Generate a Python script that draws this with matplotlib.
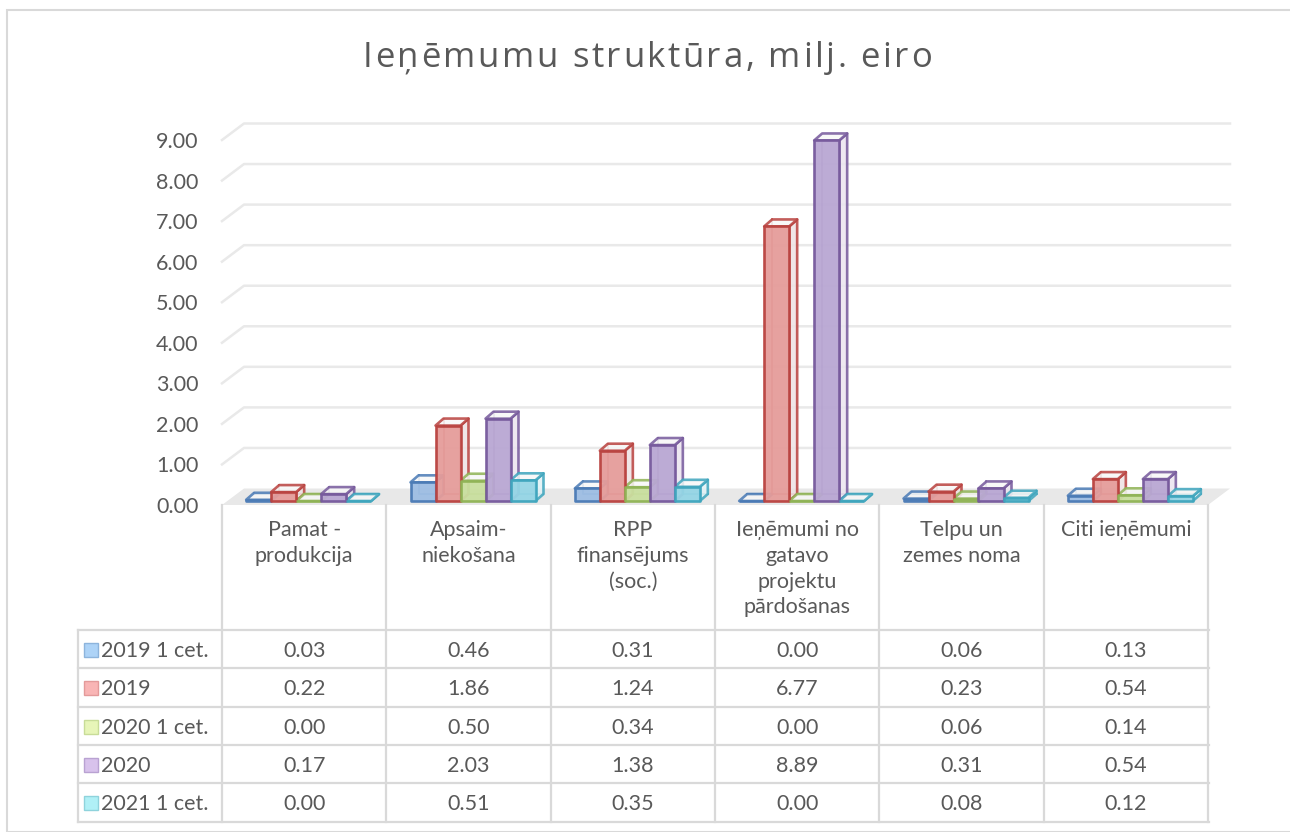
import numpy as np
import matplotlib.pyplot as plt
from matplotlib.patches import Polygon, Rectangle
from matplotlib.lines import Line2D
from matplotlib.transforms import blended_transform_factory

plt.rcParams['font.family'] = ['Lato', 'DejaVu Sans']

categories = ['Pamat -\nprodukcija', 'Apsaim-\nniekošana', 'RPP\nfinansējums\n(soc.)',
              'Ieņēmumi no\ngatavo\nprojektu\npārdošanas', 'Telpu un\nzemes noma', 'Citi ieņēmumi']
series = ['2019 1 cet.', '2019', '2020 1 cet.', '2020', '2021 1 cet.']
v_2019_q1 = [0.03, 0.46, 0.31, 0.00, 0.06, 0.13]
v_2019 = [0.22, 1.86, 1.24, 6.77, 0.23, 0.54]
v_2020_q1 = [0.00, 0.50, 0.34, 0.00, 0.06, 0.14]
v_2020 = [0.17, 2.03, 1.38, 8.89, 0.31, 0.54]
v_2021_q1 = [0.00, 0.51, 0.35, 0.00, 0.08, 0.12]
values = [v_2019_q1, v_2019, v_2020_q1, v_2020, v_2021_q1]
yticks = np.arange(0, 10, 1)
title = 'Ieņēmumu struktūra, milj. eiro'

edge_cols = ['#4a7ab5', '#b9423f', '#8fb355', '#76599c', '#3ea5bd']
front_cols = ['#9dbde3', '#e59c9a', '#c9df9f', '#b9a7d3', '#95d5e5']
side_cols = ['#e3ebf4', '#eee2e3', '#eef3e4', '#ebe5ef', '#e1f1f5']
key_cols = ['#add3f7', '#f9b5b5', '#e7f5b8', '#d8c2ec', '#b0f0f6']
key_edge = ['#8db4dc', '#e39a9a', '#c8dc98', '#b9a2d2', '#8fd3dc']
txt = '#595959'
grid_c = '#e9e9e9'
line_c = '#d9d9d9'

W, H = 1290, 832
fig = plt.figure(figsize=(W / 100, H / 100), dpi=100)
renderer = fig.canvas.get_renderer()


def fy(py):
    return 1 - py / H


# outer chart border
fig.patches.append(Rectangle((7 / W, 0), 1.2, fy(10), transform=fig.transFigure,
                             fill=False, edgecolor=line_c, linewidth=1.5))

# title with a little letter spacing (Excel style)
t_kw = dict(fontsize=25, color=txt, family=['Open Sans', 'DejaVu Sans'], va='baseline', ha='left')


def text_w(s):
    tmp = fig.text(0, 0, s, **t_kw)
    w = tmp.get_window_extent(renderer).width
    tmp.remove()
    return w


hh = text_w('HH')
adv = [text_w('H' + ch + 'H') - hh for ch in title]
title_w = 569
gap = (title_w - sum(adv)) / (len(title) - 1)
x = 647 - title_w / 2
for ch, w in zip(title, adv):
    if ch != ' ':
        fig.text(x / W, fy(67), ch, **t_kw)
    x += w + gap

ax = fig.add_axes([222 / W, fy(505), (1208 - 222) / W, (505 - 140) / H])
ax.set_xlim(-0.5, 5.5)
ax.set_ylim(0, 9)
for s in ax.spines.values():
    s.set_visible(False)
ax.set_xticks([])
ax.set_yticks(yticks)
ax.set_yticklabels([f'{t:.2f}' for t in yticks])
ax.tick_params(axis='y', length=0, pad=17, labelsize=15.5, labelcolor=txt)
ax.patch.set_alpha(0)

# depth offsets (wall and bar), in data units
px_x = (1208 - 222) / 6
px_y = (505 - 140) / 9
dxw, dyw = 22 / px_x, 16.5 / px_y
dxb, dyb = 8 / px_x, 7 / px_y
base = 4 / px_y   # bars stand a little back on the floor

# floor
ax.add_patch(Polygon([(-0.5, 0), (5.5, 0), (5.5 + dxw, dyw), (-0.5 + dxw, dyw)],
                     closed=True, facecolor='#e8e8e8', edgecolor='none', clip_on=False, zorder=1))
# wall gridlines
for t in yticks[1:]:
    ax.add_line(Line2D([-0.5, -0.5 + dxw, 5.5 + dxw], [t, t + dyw, t + dyw],
                       color=grid_c, linewidth=1.8, clip_on=False, zorder=1))

bw = 25 / px_x
start = -58 / px_x
for i in range(len(categories)):
    for j in range(len(series)):
        h = values[j][i] + base
        b = base
        x0 = i + start + j * bw
        x1 = x0 + bw
        ec = edge_cols[j]
        kw = dict(closed=True, edgecolor=ec, linewidth=1.9, clip_on=False, joinstyle='round')
        # hidden back edges
        ax.add_line(Line2D([x0 + dxb, x0 + dxb, x1 + dxb], [h + dyb, b + dyb, b + dyb],
                           color=ec, linewidth=1.3, alpha=0.7, zorder=2))
        ax.add_patch(Polygon([(x1, b), (x1 + dxb, b + dyb), (x1 + dxb, h + dyb), (x1, h)],
                             facecolor=side_cols[j], alpha=0.85, zorder=2, **kw))
        ax.add_patch(Polygon([(x0, h), (x1, h), (x1 + dxb, h + dyb), (x0 + dxb, h + dyb)],
                             facecolor='#f7f7f7', alpha=0.85, zorder=2, **kw))
        ax.add_patch(Polygon([(x0, b), (x1, b), (x1, h), (x0, h)],
                             facecolor=front_cols[j], alpha=0.95, zorder=3, **kw))

# data table
tr = blended_transform_factory(ax.transData, fig.transFigure)
row_y = [630, 668, 707, 745, 783, 822]
for k in range(len(categories) + 1):
    fig.add_artist(Line2D([k - 0.5, k - 0.5], [fy(505), fy(822)], transform=tr,
                          color=line_c, linewidth=1.6))
fig.add_artist(Line2D([78 / W, 78 / W], [fy(630), fy(822)], transform=fig.transFigure,
                      color=line_c, linewidth=1.6))
for ry in row_y:
    fig.add_artist(Line2D([78 / W, 1209 / W], [fy(ry), fy(ry)], transform=fig.transFigure,
                          color=line_c, linewidth=1.6))

for i, c in enumerate(categories):
    fig.text(0, fy(520), c, transform=tr, ha='center', va='top', fontsize=15.5,
             color=txt, linespacing=1.36).set_x(i)

for j, s in enumerate(series):
    yc = (row_y[j] + row_y[j + 1]) / 2
    yb = row_y[j] + 27
    fig.patches.append(Rectangle((84 / W, fy(yc + 7.5)), 14 / W, 14 / H, transform=fig.transFigure,
                                 facecolor=key_cols[j], edgecolor=key_edge[j], linewidth=1))
    fig.text(101 / W, fy(yb), s, ha='left', va='baseline', fontsize=15.5, color=txt)
    for i in range(len(categories)):
        t = fig.text(0, fy(yb), f'{values[j][i]:.2f}', transform=tr, ha='center', va='baseline',
                     fontsize=15.5, color=txt)
        t.set_x(i)

fig.savefig('out.png', dpi=100)
